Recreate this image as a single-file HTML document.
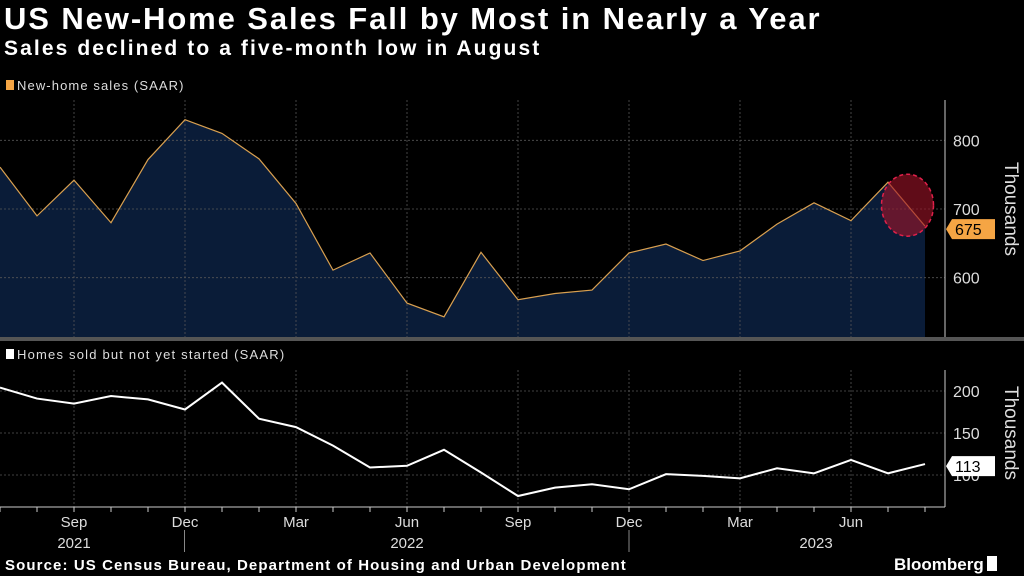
<!DOCTYPE html>
<html><head><meta charset="utf-8"><style>
body{margin:0;background:#000;width:1024px;height:576px;overflow:hidden;font-family:"Liberation Sans",sans-serif;color:#fff}
#title{position:absolute;left:4px;top:1px;font-size:31px;font-weight:bold;letter-spacing:1.9px;white-space:nowrap}
#sub{position:absolute;left:4px;top:37px;font-size:21px;font-weight:bold;letter-spacing:2.1px;white-space:nowrap}
svg{position:absolute;left:0;top:0}
</style></head><body>
<div id="title">US New-Home Sales Fall by Most in Nearly a Year</div>
<div id="sub">Sales declined to a five-month low in August</div>
<svg id="c" width="1024" height="576"></svg>
<script>
const months=["Jul21","Aug21","Sep21","Oct21","Nov21","Dec21","Jan22","Feb22","Mar22","Apr22","May22","Jun22","Jul22","Aug22","Sep22","Oct22","Nov22","Dec22","Jan23","Feb23","Mar23","Apr23","May23","Jun23","Jul23","Aug23"];
const sales=[761,690,742,680,772,830,810,773,708,611,636,563,543,637,568,577,582,636,649,625,639,678,709,683,739,675];
const notStarted=[204,191,185,194,190,178,210,167,157,135,109,111,130,103,75,85,89,83,101,99,96,108,102,118,102,113];
const topTicks=[600,700,800];
const botTicks=[100,150,200];
const xLabels=["Sep","Dec","Mar","Jun","Sep","Dec","Mar","Jun"];
const xLabelIdx=[2,5,8,11,14,17,20,23];
const years=["2021","2022","2023"];
const svg=document.getElementById('c');
const NS="http://www.w3.org/2000/svg";
function mk(t,a,p){const e=document.createElementNS(NS,t);for(const k in a)e.setAttribute(k,a[k]);(p||svg).appendChild(e);return e;}
const x=i=>i*37;
const yT=v=>209-(v-700)*0.687;
const yB=v=>391-(v-200)*0.84;
let l=mk('rect',{x:6,y:80,width:8,height:10,fill:'#f5a544'});

l=mk('text',{x:17,y:90,fill:'#ddd','font-size':13,'letter-spacing':1.1});l.textContent='New-home sales (SAAR)';

l=mk('rect',{x:6,y:349,width:8,height:10,fill:'#fff'});

l=mk('text',{x:17,y:359,fill:'#ddd','font-size':13,'letter-spacing':1.2});l.textContent='Homes sold but not yet started (SAAR)';

let d='M0,337 '+sales.map((v,i)=>'L'+x(i)+','+yT(v)).join(' ')+' L'+x(25)+',337Z';
let a=mk('path',{d:d,fill:'#0a1c38'});

xLabelIdx.forEach(i=>{
 let g=mk('line',{x1:x(i),x2:x(i),y1:100,y2:337,stroke:'#555','stroke-dasharray':'2,2','stroke-width':0.8});
 
 g=mk('line',{x1:x(i),x2:x(i),y1:370,y2:507,stroke:'#555','stroke-dasharray':'2,2','stroke-width':0.8});
 
});
topTicks.forEach(v=>{
 let g=mk('line',{x1:0,x2:945,y1:yT(v),y2:yT(v),stroke:'#555','stroke-dasharray':'2,2','stroke-width':0.8});
 
 let t=mk('text',{x:953,y:yT(v)+6,fill:'#ddd','font-size':16});t.textContent=v;
 
});
botTicks.forEach(v=>{
 let g=mk('line',{x1:0,x2:945,y1:yB(v),y2:yB(v),stroke:'#555','stroke-dasharray':'2,2','stroke-width':0.8});
 
 let t=mk('text',{x:953,y:yB(v)+6,fill:'#ddd','font-size':16});t.textContent=v;
 
});
let p=mk('polyline',{points:sales.map((v,i)=>x(i)+','+yT(v)).join(' '),fill:'none',stroke:'#d9a050','stroke-width':1.2});

p=mk('polyline',{points:notStarted.map((v,i)=>x(i)+','+yB(v)).join(' '),fill:'none',stroke:'#fff','stroke-width':2});

let e=mk('ellipse',{cx:(x(24)+x(25))/2+1,cy:(yT(739)+yT(675))/2+1,rx:26,ry:31,fill:'rgba(160,20,40,0.6)',stroke:'#e0204a','stroke-dasharray':'4,3','stroke-width':1.5});

[[100,337],[370,507]].forEach((r,k)=>{
 let ax=mk('line',{x1:945,x2:945,y1:r[0],y2:r[1],stroke:'#ccc'});
 
});
let sep=mk('rect',{x:0,y:337,width:1024,height:4,fill:'#555'});

let xa=mk('line',{x1:0,x2:945,y1:507,y2:507,stroke:'#ccc'});

months.forEach((m,i)=>{let t=mk('line',{x1:x(i),x2:x(i),y1:507,y2:512,stroke:'#ccc'});
 });
xLabelIdx.forEach((i,k)=>{let t=mk('text',{x:x(i),y:527,fill:'#ddd','font-size':15,'text-anchor':'middle'});t.textContent=xLabels[k];
 });
[[x(5)-0.5,x(17)]].forEach(r=>r.forEach(xx=>{let t=mk('line',{x1:xx,x2:xx,y1:530,y2:552,stroke:'#888'});
 }));
[[x(2),0],[x(11),1],[x(23)-35,2]].forEach(r=>{let t=mk('text',{x:r[0],y:548,fill:'#ddd','font-size':15,'text-anchor':'middle'});t.textContent=years[r[1]];
 });
function badge(yy,txt,bg,fg,name){
 let g=mk('path',{d:`M946,${yy} L952,${yy-10} L995,${yy-10} L995,${yy+10} L952,${yy+10}Z`,fill:bg});
 
 let t=mk('text',{x:955,y:yy+6,fill:fg,'font-size':16});t.textContent=txt;
 
}
badge(yT(sales[25])+3,sales[25],'#f5a544','#000','sales-last-value');
badge(yB(notStarted[25])+2,notStarted[25],'#fff','#000','not-started-last-value');
[[yT(700),'top'],[yB(150),'bottom']].forEach(r=>{let t=mk('text',{x:1005,y:r[0],fill:'#ddd','font-size':19,transform:`rotate(90 1005 ${r[0]})`,'text-anchor':'middle'});t.textContent='Thousands';
 });
let s=mk('text',{x:5,y:570,fill:'#fff','font-size':15,'font-weight':'bold','letter-spacing':1.1});s.textContent='Source: US Census Bureau, Department of Housing and Urban Development';

s=mk('text',{x:894,y:570,fill:'#fff','font-size':17,'font-weight':'bold'});s.textContent='Bloomberg';

s=mk('rect',{x:987,y:556,width:10,height:15,fill:'#fff'});

</script>
</body></html>
